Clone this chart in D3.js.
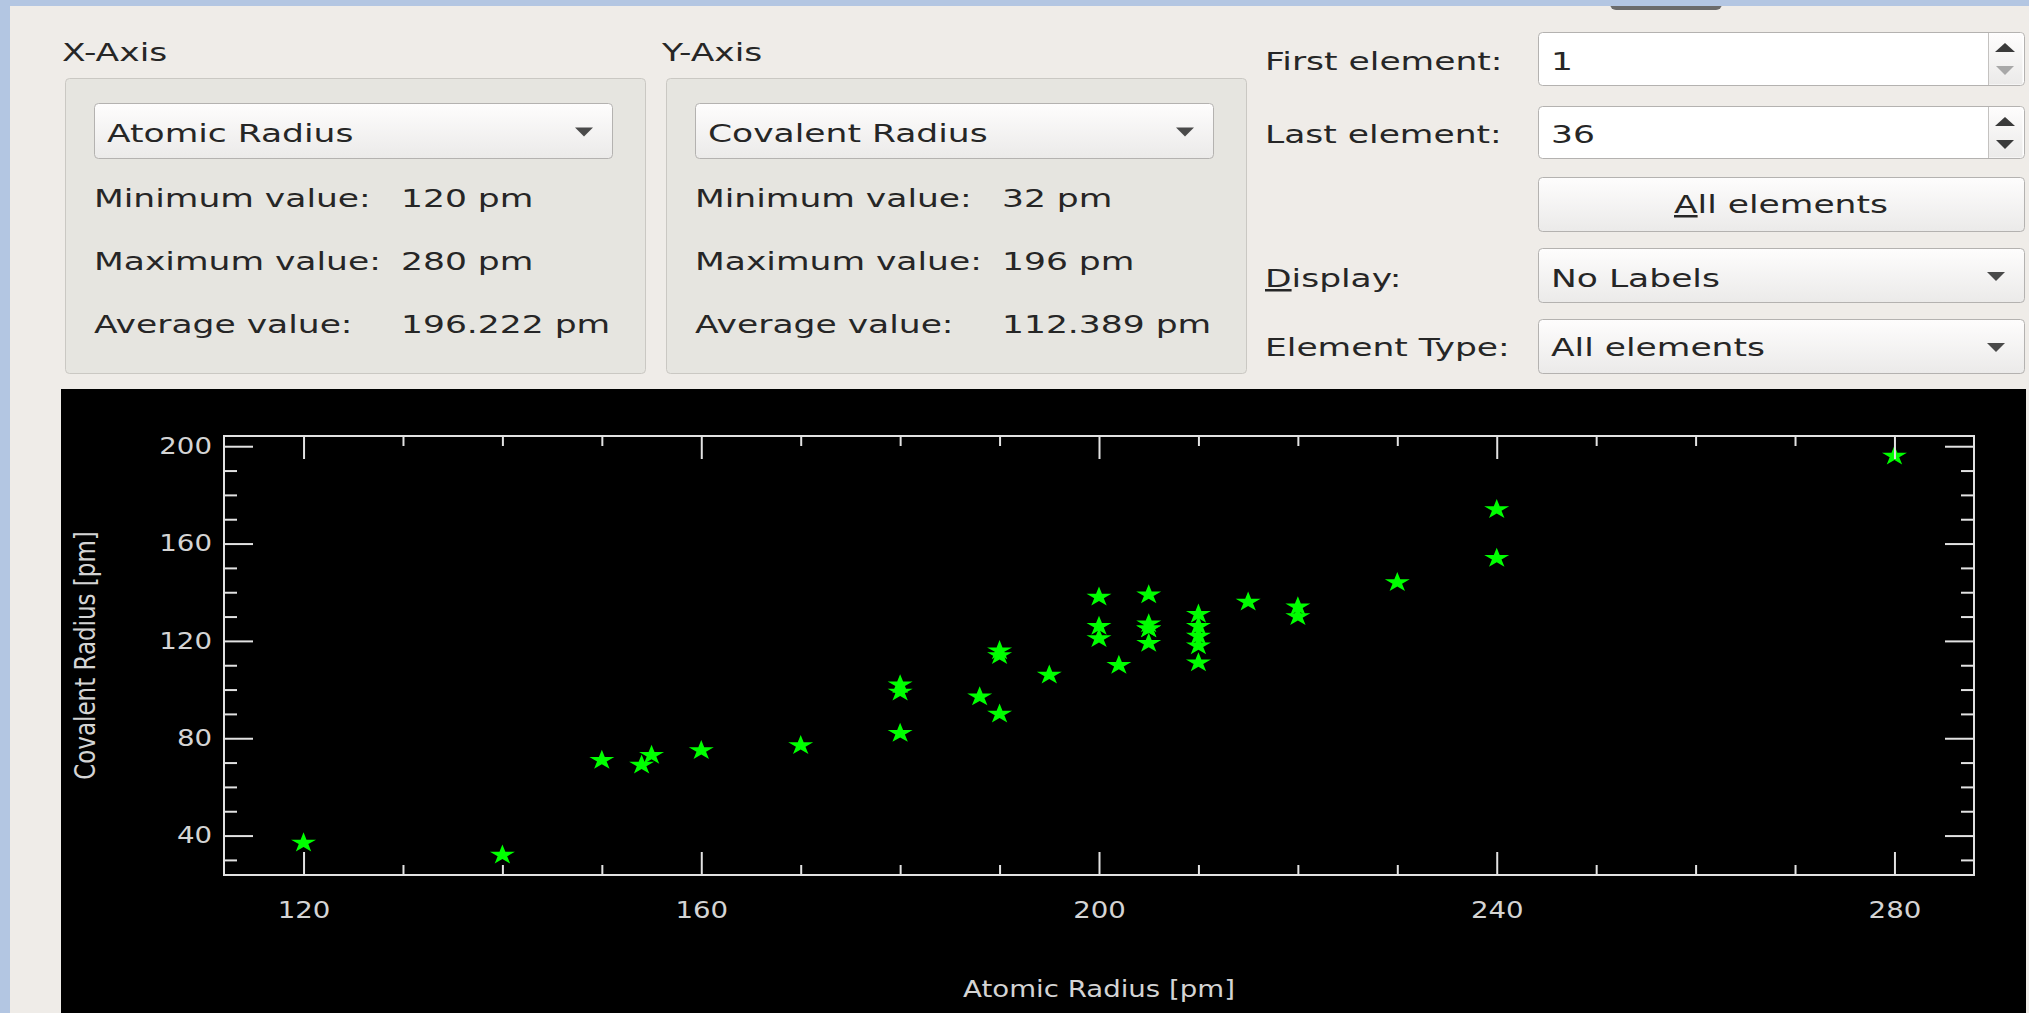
<!DOCTYPE html>
<html>
<head>
<meta charset="utf-8">
<script src="https://cdn.jsdelivr.net/npm/d3@7"></script>
<style>
  body { margin: 0; background: #efece8; }
  svg { display: block; }
</style>
</head>
<body>
<div id="plot"></div>
<script>
var svgWidth = 2029;
var svgHeight = 1013;

// elements 1 (H) .. 36 (Kr)
var symbols = ["H", "He", "Li", "Be", "B", "C", "N", "O", "F", "Ne",
  "Na", "Mg", "Al", "Si", "P", "S", "Cl", "Ar", "K", "Ca",
  "Sc", "Ti", "V", "Cr", "Mn", "Fe", "Co", "Ni", "Cu", "Zn",
  "Ga", "Ge", "As", "Se", "Br", "Kr"];
var atomicRadius = [120, 140, 220, 190, 180, 170, 160, 155, 150, 154,
  240, 220, 210, 210, 195, 180, 180, 188, 280, 240,
  230, 215, 205, 205, 205, 205, 200, 200, 200, 210,
  210, 210, 205, 190, 190, 202];
var covalentRadius = [37, 32, 134, 90, 82, 77, 75, 73, 71, 69,
  154, 130, 118, 111, 106, 102, 99, 97, 196, 174,
  144, 136, 125, 127, 139, 125, 126, 121, 138, 131,
  126, 122, 119, 116, 114, 110];

var xMajorTicks = [120, 160, 200, 240, 280];
var xMinorTicks = [130, 140, 150, 170, 180, 190, 210, 220, 230, 250, 260, 270];
var yMajorTicks = [40, 80, 120, 160, 200];
var yMinorTicks = [30, 50, 60, 70, 90, 100, 110, 130, 140, 150, 170, 180, 190];

var xPropName = "Atomic Radius";
var yPropName = "Covalent Radius";
var unit = "pm";

// screenshot text is wider than the font, stretch it a bit
var kUI = 1.38;
var kPlot = 1.2;

var svg = d3.select("#plot")
  .append("svg")
  .attr("width", svgWidth)
  .attr("height", svgHeight);

var defs = svg.append("defs");
var grad = defs.append("linearGradient").attr("id", "btnGrad")
  .attr("x1", 0).attr("y1", 0).attr("x2", 0).attr("y2", 1);
grad.append("stop").attr("offset", "0%").attr("stop-color", "#fefdfd");
grad.append("stop").attr("offset", "100%").attr("stop-color", "#ebeae9");

// window background and frame
svg.append("rect").attr("width", svgWidth).attr("height", svgHeight).attr("fill", "#efece8");
svg.append("rect").attr("x", 1610).attr("y", -6).attr("width", 112).attr("height", 16)
  .attr("rx", 6).attr("fill", "#6b6b6b");
svg.append("rect").attr("width", svgWidth).attr("height", 6).attr("fill", "#b3c6e2");
svg.append("rect").attr("width", 10).attr("height", svgHeight).attr("fill", "#b3c6e2");

function stretch(sel, k) {
  sel.each(function () {
    var len = this.getComputedTextLength();
    d3.select(this).attr("textLength", len * k).attr("lengthAdjust", "spacingAndGlyphs");
  });
}

function uiText(x, y, str, anchor) {
  var t = svg.append("text")
    .attr("x", x).attr("y", y)
    .attr("font-family", "DejaVu Sans")
    .attr("font-size", 25)
    .attr("fill", "#262626")
    .attr("text-anchor", anchor || "start")
    .text(str);
  stretch(t, kUI);
  return t;
}

// text with an underlined first letter (keyboard accelerator)
function uiMnemonic(x, y, first, rest, anchor) {
  var t = svg.append("text")
    .attr("x", x).attr("y", y)
    .attr("font-family", "DejaVu Sans")
    .attr("font-size", 25)
    .attr("fill", "#262626")
    .attr("text-anchor", anchor || "start");
  t.append("tspan").style("text-decoration", "underline").text(first);
  t.append("tspan").text(rest);
  stretch(t, kUI);
  return t;
}

function arrowDown(cx, cy, color) {
  svg.append("path")
    .attr("d", `M${cx - 9},${cy - 4}L${cx + 9},${cy - 4}L${cx},${cy + 5}Z`)
    .attr("fill", color || "#4a4a4a");
}

function arrowUp(cx, cy, color) {
  svg.append("path")
    .attr("d", `M${cx - 10},${cy + 4}L${cx + 10},${cy + 4}L${cx},${cy - 5}Z`)
    .attr("fill", color || "#3a3a3a");
}

function comboBox(x0, x1, y0, y1, label, textX, baseline) {
  svg.append("rect")
    .attr("x", x0 + 0.5).attr("y", y0 + 0.5)
    .attr("width", x1 - x0).attr("height", y1 - y0)
    .attr("rx", 4)
    .attr("fill", "url(#btnGrad)")
    .attr("stroke", "#b4b2b0");
  uiText(textX, baseline, label);
  arrowDown(x1 - 28, (y0 + y1) / 2 + 1);
}

function spinBox(y0, y1, value, baseline, downDisabled) {
  var x0 = 1538, x1 = 2024;
  svg.append("rect")
    .attr("x", x0 + 0.5).attr("y", y0 + 0.5)
    .attr("width", x1 - x0).attr("height", y1 - y0)
    .attr("rx", 4)
    .attr("fill", "#ffffff")
    .attr("stroke", "#b4b2b0");
  svg.append("rect")
    .attr("x", 1988.5).attr("y", y0 + 1.5)
    .attr("width", x1 - 1990).attr("height", y1 - y0 - 2)
    .attr("fill", "url(#btnGrad)");
  svg.append("line")
    .attr("x1", 1988.5).attr("x2", 1988.5)
    .attr("y1", y0 + 1).attr("y2", y1)
    .attr("stroke", "#c4c2c0");
  uiText(1551, baseline, value);
  arrowUp(2005, y0 + 16);
  arrowDown(2005, y0 + 38, downDisabled ? "#a8a8a8" : "#3a3a3a");
}

function groupBox(x0, x1, title, titleX, comboLabel, values) {
  svg.append("rect")
    .attr("x", x0 + 0.5).attr("y", 78.5)
    .attr("width", x1 - x0).attr("height", 295)
    .attr("rx", 4)
    .attr("fill", "#e6e5e0")
    .attr("stroke", "#cac8c3");
  uiText(titleX, 61, title);
  comboBox(x0 + 29, x0 + 547, 103, 158, comboLabel, x0 + 42, 142);
  var rows = ["Minimum value:", "Maximum value:", "Average value:"];
  var baselines = [207, 270, 333];
  rows.forEach(function (r, i) {
    uiText(x0 + 29, baselines[i], r);
    uiText(x0 + 336, baselines[i], values[i] + " " + unit);
  });
}

var fmtMean = d3.format(".3f");
var xStats = [d3.min(atomicRadius), d3.max(atomicRadius), fmtMean(d3.mean(atomicRadius))];
var yStats = [d3.min(covalentRadius), d3.max(covalentRadius), fmtMean(d3.mean(covalentRadius))];

groupBox(65, 645, "X-Axis", 62, xPropName, xStats);
groupBox(666, 1246, "Y-Axis", 662, yPropName, yStats);

// right hand controls
uiText(1265, 70, "First element:");
spinBox(32, 85, "1", 70, true);
uiText(1265, 143, "Last element:");
spinBox(106, 158, String(symbols.length), 143, false);

svg.append("rect")
  .attr("x", 1538.5).attr("y", 177.5)
  .attr("width", 486).attr("height", 54)
  .attr("rx", 4)
  .attr("fill", "url(#btnGrad)")
  .attr("stroke", "#b4b2b0");
uiMnemonic(1781, 213, "A", "ll elements", "middle");

uiMnemonic(1265, 287, "D", "isplay:");
comboBox(1538, 2024, 248, 302, "No Labels", 1551, 287);
uiText(1265, 356, "Element Type:");
comboBox(1538, 2024, 319, 373, "All elements", 1551, 356);

// ---- plot ----
var margin = { left: 224, right: 1974, top: 436, bottom: 875 };

var plot = svg.append("g");
plot.append("rect")
  .attr("x", 61).attr("y", 389)
  .attr("width", 1965).attr("height", svgHeight - 389)
  .attr("fill", "#000");

function padded(ext) {
  var d = (ext[1] - ext[0]) * 0.05;
  return [ext[0] - d, ext[1] + d];
}

var xLinearScale = d3.scaleLinear()
  .domain(padded(d3.extent(atomicRadius)))
  .range([margin.left, margin.right]);

var yLinearScale = d3.scaleLinear()
  .domain(padded(d3.extent(covalentRadius)))
  .range([margin.bottom, margin.top]);

// star markers
var star = d3.symbol().type(d3.symbolStar).size(124);
plot.append("g").selectAll("path")
  .data(symbols)
  .enter()
  .append("path")
  .attr("d", star)
  .attr("transform", (d, i) =>
    `translate(${xLinearScale(atomicRadius[i])},${yLinearScale(covalentRadius[i])}) scale(1.25,1)`)
  .attr("fill", "#00ff00");

function drawAxis(axis, tx, ty, withLabels) {
  var g = plot.append("g")
    .attr("transform", `translate(${tx},${ty})`)
    .call(axis);
  g.select(".domain").remove();
  g.attr("font-family", "DejaVu Sans").attr("font-size", 23).style("color", "#e2e2e2");
  g.selectAll("line").attr("stroke-width", 2);
  if (withLabels) {
    g.selectAll("text").attr("fill", "#d4d4d4");
    stretch(g.selectAll("text"), kPlot);
  }
  return g;
}

var noLabel = () => "";

drawAxis(d3.axisBottom(xLinearScale).tickValues(xMajorTicks).tickSize(-23).tickPadding(27)
  .tickFormat(d3.format("d")), 0, margin.bottom, true);
drawAxis(d3.axisBottom(xLinearScale).tickValues(xMinorTicks).tickSize(-10).tickFormat(noLabel),
  0, margin.bottom, false);
drawAxis(d3.axisTop(xLinearScale).tickValues(xMajorTicks).tickSize(-23).tickFormat(noLabel),
  0, margin.top, false);
drawAxis(d3.axisTop(xLinearScale).tickValues(xMinorTicks).tickSize(-10).tickFormat(noLabel),
  0, margin.top, false);

drawAxis(d3.axisLeft(yLinearScale).tickValues(yMajorTicks).tickSize(-29).tickPadding(12)
  .tickFormat(d3.format("d")), margin.left, 0, true);
drawAxis(d3.axisLeft(yLinearScale).tickValues(yMinorTicks).tickSize(-13).tickFormat(noLabel),
  margin.left, 0, false);
drawAxis(d3.axisRight(yLinearScale).tickValues(yMajorTicks).tickSize(-29).tickFormat(noLabel),
  margin.right, 0, false);
drawAxis(d3.axisRight(yLinearScale).tickValues(yMinorTicks).tickSize(-13).tickFormat(noLabel),
  margin.right, 0, false);

// frame
plot.append("rect")
  .attr("x", margin.left).attr("y", margin.top)
  .attr("width", margin.right - margin.left)
  .attr("height", margin.bottom - margin.top)
  .attr("fill", "none")
  .attr("stroke", "#e2e2e2")
  .attr("stroke-width", 2);

// axis titles
var xTitle = plot.append("text")
  .attr("x", (margin.left + margin.right) / 2)
  .attr("y", 997)
  .attr("text-anchor", "middle")
  .attr("font-family", "DejaVu Sans")
  .attr("font-size", 23)
  .attr("fill", "#d4d4d4")
  .text(xPropName + " [" + unit + "]");
stretch(xTitle, kPlot);

plot.append("text")
  .attr("transform", `translate(95,${(margin.top + margin.bottom) / 2}) scale(${kPlot},1) rotate(-90)`)
  .attr("text-anchor", "middle")
  .attr("font-family", "DejaVu Sans")
  .attr("font-size", 23)
  .attr("fill", "#d4d4d4")
  .text(yPropName + " [" + unit + "]");
</script>
</body>
</html>
